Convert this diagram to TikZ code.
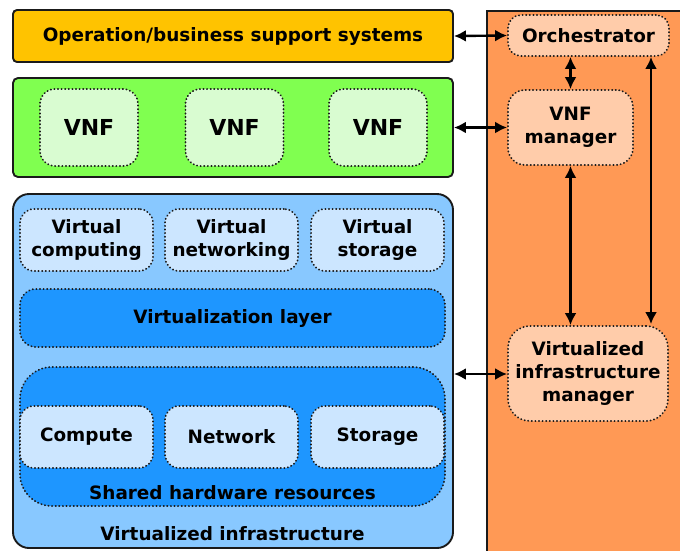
\documentclass[tikz,border=0pt]{standalone}
\usepackage{fontspec}
\setmainfont{DejaVu Sans}
\usetikzlibrary{arrows.meta,calc}

\definecolor{ossgold}{HTML}{FFC300}
\definecolor{vnfgreen}{HTML}{80FF50}
\definecolor{vnflight}{HTML}{D9FCD1}
\definecolor{nfviblue}{HTML}{88C8FF}
\definecolor{paleblue}{HTML}{CCE6FF}
\definecolor{midblue}{HTML}{1E96FF}
\definecolor{manoorange}{HTML}{FF9955}
\definecolor{paleorange}{HTML}{FFCCAA}
\definecolor{edge}{HTML}{1A1A1A}

\tikzset{
  txt/.style={font=\fontsize{18.4}{23}\selectfont\bfseries, align=center, text=black},
  solidbox/.style={draw=edge, line width=1.9pt, inner sep=0pt},
  dotbox/.style={draw=edge, line width=1.8pt, line cap=round, dash pattern=on 0.4pt off 3.2pt, inner sep=0pt},
  link/.style={draw=black, line width=2.4pt, {Latex[length=12pt,width=12pt]}-{Latex[length=12pt,width=12pt]}},
}

\begin{document}
\begin{tikzpicture}[x=1pt,y=-1pt]
\useasboundingbox (0,0) rectangle (680,550);
\begin{scope}
\clip (0,0) rectangle (680,550);

% management and orchestration panel (runs off the right and bottom)
\node[solidbox, fill=manoorange, minimum width=240pt, minimum height=580pt, anchor=north west] (mano) at (486,10) {};

% operation / business support systems
\node[solidbox, fill=ossgold, rounded corners=4pt, minimum width=440pt, minimum height=52pt, txt] (oss) at (233,36) {Operation/business support systems};

% virtual network functions
\node[solidbox, fill=vnfgreen, rounded corners=5pt, minimum width=440pt, minimum height=99pt] (vnfs) at (233,127.5) {};
\foreach \n/\x in {1/89, 2/234.5, 3/378}
  \node[dotbox, fill=vnflight, rounded corners=15pt, minimum width=98pt, minimum height=77pt,
        font=\fontsize{22}{26}\selectfont\bfseries] (vnf\n) at (\x,127.5) {VNF};

% virtualized infrastructure
\node[solidbox, fill=nfviblue, rounded corners=16pt, minimum width=440pt, minimum height=354pt] (nfvi) at (233,371) {};
\node[dotbox, fill=paleblue, rounded corners=14pt, minimum width=133pt, minimum height=62pt, txt] (vcomp) at (86.5,240) {Virtual\\computing};
\node[dotbox, fill=paleblue, rounded corners=14pt, minimum width=133pt, minimum height=62pt, txt] (vnet) at (231.5,240) {Virtual\\networking};
\node[dotbox, fill=paleblue, rounded corners=14pt, minimum width=133pt, minimum height=62pt, txt] (vstor) at (377.5,240) {Virtual\\storage};

\node[dotbox, fill=midblue, rounded corners=16pt, minimum width=425pt, minimum height=58pt, txt] (vlayer) at (232.5,318) {Virtualization layer};

\node[dotbox, fill=midblue, rounded corners=32pt, minimum width=425pt, minimum height=139pt] (hw) at (232.5,436.5) {};
\node[dotbox, fill=paleblue, rounded corners=14pt, minimum width=133pt, minimum height=62pt, txt] (compute) at (86.5,437) {Compute};
\node[dotbox, fill=paleblue, rounded corners=14pt, minimum width=133pt, minimum height=62pt, txt] (network) at (231.5,437) {\raisebox{-1.5pt}{Network}};
\node[dotbox, fill=paleblue, rounded corners=14pt, minimum width=133pt, minimum height=62pt, txt] (storage) at (377.5,437) {Storage};
\node[txt] (hwlabel) at (232.5,492.5) {Shared hardware resources};
\node[txt] (nfvilabel) at (232.5,534) {Virtualized infrastructure};

% management blocks
\node[dotbox, fill=paleorange, rounded corners=13pt, minimum width=161pt, minimum height=41pt, txt] (orch) at (588.5,35.5) {Orchestrator};
\node[dotbox, fill=paleorange, rounded corners=17pt, minimum width=125pt, minimum height=75pt, txt] (vnfm) at (570.5,127.5) {VNF\\manager};
\node[dotbox, fill=paleorange, rounded corners=22pt, minimum width=160pt, minimum height=95pt, txt] (vim) at (588,373.5) {Virtualized\\infrastructure\\manager};

% reference points
\coordinate (rx) at (651,0);
\coordinate (vimrow) at (0,374);

% connections
\draw[link] (oss.east) -- (orch.west);
\draw[link] (vnfs.east) -- (vnfm.west);
\draw[link] (nfvi.east |- vimrow) -- (vim.west |- vimrow);
\draw[link] (vnfm.north) -- (vnfm.north |- orch.south);
\draw[link] (vnfm.south) -- (vnfm.south |- vim.north);
\draw[link] (orch.south -| rx) -- ($(vim.north -| rx)+(0,-1)$);
\end{scope}
\end{tikzpicture}
\end{document}
